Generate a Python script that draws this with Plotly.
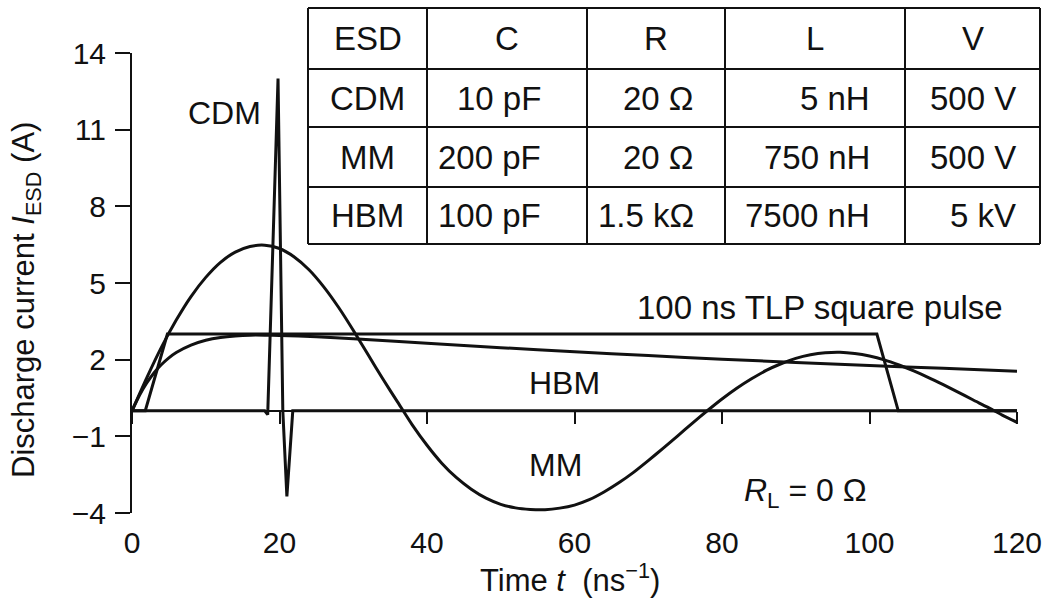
import plotly.graph_objects as go

# ---------------- data ----------------
mm_time = [0, 2, 4, 6, 8, 10, 12, 14, 16, 18, 20, 22, 24, 26, 28, 30, 32, 34, 36, 38,
           40, 42, 44, 46, 48, 50, 52, 54, 56, 58, 60, 62, 64, 66, 68, 70, 72, 74, 76, 78,
           80, 82, 84, 86, 88, 90, 92, 94, 96, 98, 100, 102, 104, 106, 108, 110, 112, 114,
           116, 118, 120]
mm_current = [0, 1.29, 2.49, 3.55, 4.47, 5.22, 5.81, 6.21, 6.43, 6.48, 6.35, 6.02, 5.52,
              4.85, 4.05, 3.15, 2.20, 1.25, 0.35, -0.55, -1.35, -2.05, -2.62, -3.07, -3.42,
              -3.66, -3.80, -3.86, -3.87, -3.81, -3.69, -3.48, -3.18, -2.82, -2.41, -1.95,
              -1.47, -0.98, -0.48, 0.00, 0.46, 0.88, 1.25, 1.58, 1.84, 2.05, 2.19, 2.27,
              2.29, 2.24, 2.14, 1.99, 1.79, 1.56, 1.30, 1.02, 0.73, 0.43, 0.14, -0.17, -0.45]

hbm_time = [0, 1, 2, 3, 4, 5, 6, 8, 10, 12, 14, 16, 18, 20, 25, 30, 40, 50, 60, 70, 80,
            90, 100, 110, 120]
hbm_current = [0, 0.60, 1.09, 1.49, 1.81, 2.07, 2.28, 2.57, 2.76, 2.87, 2.93, 2.96, 2.96,
               2.95, 2.90, 2.82, 2.64, 2.47, 2.31, 2.16, 2.02, 1.89, 1.77, 1.66, 1.55]

cdm_time = [0, 18.0, 18.4, 19.8, 20.45, 21.0, 21.8, 120]
cdm_current = [0, 0, -0.15, 13.0, 0, -3.35, 0, 0]

tlp_time = [0, 1.8, 4.8, 101.0, 103.9, 120]
tlp_current = [0, 0, 3.0, 3.0, 0, 0]

x_ticks = [0, 20, 40, 60, 80, 100, 120]
y_ticks = [-4, -1, 2, 5, 8, 11, 14]

table_header = ["ESD", "C", "R", "L", "V"]
table_models = ["CDM", "MM", "HBM"]
table_C = ["10 pF", "200 pF", "100 pF"]
table_R = ["20 Ω", "20 Ω", "1.5 kΩ"]
table_L = ["5 nH", "750 nH", "7500 nH"]
table_V = ["500 V", "500 V", "5 kV"]

# ---------------- layout geometry ----------------
W, H = 1042, 613
ML, MR, MT, MB = 132, 25, 53, 100
PW, PH = W - ML - MR, H - MT - MB
FONT = "Liberation Sans, Arial, Helvetica, sans-serif"
INK = "#111111"


def px(xp):
    return (xp - ML) / PW


def py(yp):
    return (H - MB - yp) / PH


fig = go.Figure()
line_style = dict(color=INK, width=3)
fig.add_trace(go.Scatter(x=mm_time, y=mm_current, mode="lines",
                         line=dict(shape="spline", smoothing=0.6, **line_style)))
fig.add_trace(go.Scatter(x=hbm_time, y=hbm_current, mode="lines",
                         line=dict(shape="spline", smoothing=0.6, **line_style)))
fig.add_trace(go.Scatter(x=cdm_time, y=cdm_current, mode="lines", line=line_style))
fig.add_trace(go.Scatter(x=tlp_time, y=tlp_current, mode="lines", line=line_style,
                         xaxis="x2"))

y_min, y_max = y_ticks[0], y_ticks[-1]

fig.update_layout(
    width=W, height=H,
    margin=dict(l=ML, r=MR, t=MT, b=MB, autoexpand=False),
    paper_bgcolor="white", plot_bgcolor="white",
    showlegend=False,
    font=dict(family=FONT, size=30, color=INK),
    xaxis=dict(range=[x_ticks[0], x_ticks[-1]], tickvals=x_ticks, showgrid=False,
               zeroline=False, showline=False, ticks="", ticklabelstandoff=9,
               ticklabeloverflow="allow",
               tickfont=dict(size=30, family=FONT, color=INK)),
    xaxis2=dict(range=[x_ticks[0], x_ticks[-1]], tickvals=x_ticks, overlaying="x",
                anchor="free", position=(0 - y_min) / (y_max - y_min), side="bottom",
                showline=True, linecolor=INK, linewidth=2, ticks="outside",
                ticklen=12, tickwidth=2, tickcolor=INK, showticklabels=False,
                showgrid=False, zeroline=False),
    yaxis=dict(range=[y_min, y_max], tickvals=y_ticks, showgrid=False, zeroline=False,
               showline=True, linecolor=INK, linewidth=2, ticks="outside", ticklen=15,
               tickwidth=2, tickcolor=INK, ticklabelstandoff=3,
               tickfont=dict(size=30, family=FONT, color=INK)),
)

ann = []
# axis titles
ann.append(dict(text="Discharge current <i>I</i><sub>ESD</sub> (A)", xref="paper", yref="paper",
                x=px(26), y=py(300), textangle=-90, showarrow=False,
                xanchor="center", yanchor="middle", font=dict(size=31)))
ann.append(dict(text="Time <i>t</i>  (ns<sup>−1</sup>)", xref="paper", yref="paper",
                x=px(570), y=py(578), showarrow=False, xanchor="center", yanchor="middle",
                font=dict(size=31)))
# curve labels
LF = dict(size=32)
ann.append(dict(text="CDM", x=12.6, y=11.65, showarrow=False, font=LF))
ann.append(dict(text="HBM", x=58.7, y=1.09, showarrow=False, font=LF))
ann.append(dict(text="MM", x=57.4, y=-2.11, showarrow=False, font=LF))
ann.append(dict(text="100 ns TLP square pulse", x=93.3, y=4.03, showarrow=False,
                font=dict(size=33)))
ann.append(dict(text="<i>R</i><sub>L</sub> = 0 Ω", x=91.3, y=-3.18, showarrow=False,
                font=LF))

# table
col_edges = [308, 427, 587, 725, 905, 1040]
row_edges = [8, 69, 127, 187, 244]
shapes = []
for ce in col_edges:
    shapes.append(dict(type="line", xref="paper", yref="paper", x0=px(ce), x1=px(ce),
                       y0=py(row_edges[0]), y1=py(row_edges[-1]),
                       line=dict(color=INK, width=2)))
for re_ in row_edges:
    shapes.append(dict(type="line", xref="paper", yref="paper", x0=px(col_edges[0]),
                       x1=px(col_edges[-1]), y0=py(re_), y1=py(re_),
                       line=dict(color=INK, width=2)))

row_mid = [(row_edges[i] + row_edges[i + 1]) / 2 for i in range(4)]
col_mid = [(col_edges[i] + col_edges[i + 1]) / 2 for i in range(5)]
TF = dict(size=33)
for j, h in enumerate(table_header):
    ann.append(dict(text=h, xref="paper", yref="paper", x=px(col_mid[j]), y=py(row_mid[0]),
                    showarrow=False, xanchor="center", yanchor="middle", font=TF))
right_edges = [543, 696, 872, 1018]
for i in range(3):
    yy = py(row_mid[i + 1])
    ann.append(dict(text=table_models[i], xref="paper", yref="paper", x=px(col_mid[0]),
                    y=yy, showarrow=False, xanchor="center", yanchor="middle", font=TF))
    for k, col in enumerate([table_C, table_R, table_L, table_V]):
        ann.append(dict(text=col[i], xref="paper", yref="paper", x=px(right_edges[k]),
                        y=yy, showarrow=False, xanchor="right", yanchor="middle", font=TF))

fig.update_layout(annotations=ann, shapes=shapes)
fig.write_html("out.html", config={"displayModeBar": False},
               post_script="document.body.style.margin='0';document.body.style.overflow='hidden';")
